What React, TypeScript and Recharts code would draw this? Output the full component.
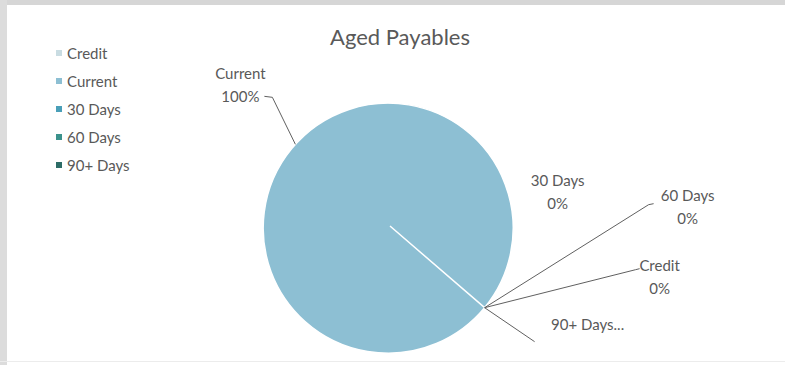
import { PieChart, Pie, Cell } from "recharts"

const categories = ["Credit", "Current", "30 Days", "60 Days", "90+ Days"]
const amounts = [0, 100, 0, 0, 0]
const colors = ["#c9dce2", "#8dbfd3", "#4a9fb8", "#3b928c", "#2d6c66"]

const data = categories.map((name, i) => ({ name, value: amounts[i] }))

const RAD = Math.PI / 180
const textColor = "#595959"
const font = "Lato, 'Open Sans', sans-serif"

// where Excel put each label, relative to the point where the slice meets the rim
const placement: Record<string, { tx: number; ty: number; line?: number[][]; oneLine?: boolean }> = {
  Credit: { tx: 175, ty: -42, line: [[151, -38], [155, -39]] },
  Current: { tx: -55, ty: -71, line: [[-23, -47], [-31, -48]] },
  "30 Days": { tx: 73, ty: -127 },
  "60 Days": { tx: 203, ty: -112, line: [[164, -103], [169, -104]] },
  "90+ Days": { tx: 103, ty: 16, line: [[50, 34]], oneLine: true },
}

function renderLabel(props: any) {
  const { cx, cy, outerRadius, midAngle, name, percent } = props
  const p = placement[name]
  if (!p) return null
  const ax = cx + outerRadius * Math.cos(-midAngle * RAD)
  const ay = cy + outerRadius * Math.sin(-midAngle * RAD)
  const pts = p.line ? [[0, 0], ...p.line].map(([x, y]) => `${ax + x},${ay + y}`).join(" ") : null
  const pct = `${Math.round(percent * 100)}%`
  return (
    <g key={name}>
      {pts && <polyline points={pts} fill="none" stroke="#606060" strokeWidth={1} />}
      {p.oneLine ? (
        <text x={ax + p.tx} y={ay + p.ty} textAnchor="middle" dominantBaseline="central"
          fill={textColor} fontSize={15} fontFamily={font}>
          {name}...
        </text>
      ) : (
        <text x={ax + p.tx} y={ay + p.ty} textAnchor="middle" fill={textColor} fontSize={15} fontFamily={font}>
          <tspan x={ax + p.tx} dy="0.35em">{name}</tspan>
          <tspan x={ax + p.tx} dy="1.55em">{pct}</tspan>
        </text>
      )}
    </g>
  )
}

function LegendList() {
  return (
    <div style={{ fontFamily: font, fontSize: 15, color: textColor }}>
      {categories.map((c, i) => (
        <div key={c} style={{ display: "flex", alignItems: "center", height: 28 }}>
          <span style={{ width: 6, height: 6, background: colors[i], marginRight: 5, display: "inline-block" }} />
          {c}
        </div>
      ))}
    </div>
  )
}

export default function App() {
  return (
    <div style={{ position: "absolute", left: 0, top: 0, width: 785, height: 365, background: "#fff", overflow: "hidden" }}>
      <div style={{ position: "absolute", left: 0, top: 0, width: 785, height: 5, background: "#d6d6d6" }} />
      <div style={{ position: "absolute", left: 0, top: 0, width: 7, height: 365, background: "#dcdcdc" }} />
      <div style={{ position: "absolute", left: 0, top: 361, width: 785, height: 1, background: "#ececec" }} />

      <div style={{ position: "absolute", left: 300, top: 23, width: 200, textAlign: "center",
        fontFamily: font, fontSize: 22, color: textColor }}>
        Aged Payables
      </div>

      <div style={{ position: "absolute", left: 56, top: 39 }}>
        <LegendList />
      </div>

      <div style={{ position: "absolute", left: 0, top: 0 }}>
        <PieChart width={785} height={365} margin={{ top: 0, right: 0, bottom: 0, left: 0 }}>
          <Pie data={data} dataKey="value" nameKey="name" cx={390} cy={226} outerRadius={125}
            startAngle={-40.8} endAngle={-400.8} stroke="#ffffff" strokeWidth={1.5}
            label={renderLabel} labelLine={false} isAnimationActive={false}>
            {data.map((d, i) => (
              <Cell key={d.name} fill={colors[i]} />
            ))}
          </Pie>
        </PieChart>
      </div>
    </div>
  )
}
